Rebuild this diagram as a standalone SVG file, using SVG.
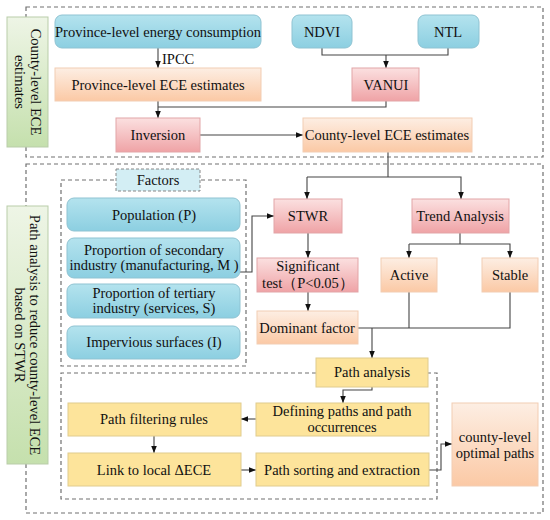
<svg xmlns="http://www.w3.org/2000/svg" width="550" height="520" viewBox="0 0 550 520" font-family="'Liberation Serif', 'DejaVu Serif', serif">
<defs>
<linearGradient id="gBlue" x1="0" y1="0" x2="0" y2="1"><stop offset="0" stop-color="#b4e3ee"/><stop offset="1" stop-color="#8ccfe1"/></linearGradient>
<linearGradient id="gOrange" x1="0" y1="0" x2="0" y2="1"><stop offset="0" stop-color="#fdeee3"/><stop offset="1" stop-color="#fbc9a5"/></linearGradient>
<linearGradient id="gPink" x1="0" y1="0" x2="0" y2="1"><stop offset="0" stop-color="#fbe0e0"/><stop offset="1" stop-color="#efa3a6"/></linearGradient>
<linearGradient id="gGreen" x1="0" y1="0" x2="0" y2="1"><stop offset="0" stop-color="#eef5e6"/><stop offset="1" stop-color="#c5e0ad"/></linearGradient>
<marker id="arr" viewBox="0 0 10 10" refX="10" refY="5" markerWidth="7" markerHeight="7" markerUnits="userSpaceOnUse" orient="auto"><path d="M0,1 L10,5 L0,9 z" fill="#111"/></marker>
<style>
text{font-family:'Liberation Serif','DejaVu Serif',serif;font-size:14.5px;fill:#111;text-anchor:middle;dominant-baseline:central}
.dash{fill:none;stroke:#707070;stroke-width:1.2;stroke-dasharray:4 3}
.blue{fill:url(#gBlue);stroke:#8fc3d2;stroke-width:1}
.orange{fill:url(#gOrange);stroke:#f2cdb3;stroke-width:1}
.pink{fill:url(#gPink);stroke:#e2a5a7;stroke-width:1}
.yellow{fill:#fde49b;stroke:#e0cc8e;stroke-width:1}
.green{fill:url(#gGreen);stroke:#b9cda9;stroke-width:1}
.ln{fill:none;stroke:#444;stroke-width:1.1}
.ar{fill:none;stroke:#444;stroke-width:1.1;marker-end:url(#arr)}
</style>
</defs>
<rect width="550" height="520" fill="#fff"/>
<g id="frames">
<rect class="dash" x="26" y="7" width="517" height="150"/>
<rect class="dash" x="26" y="164" width="517" height="349"/>
<rect class="dash" x="61" y="180" width="185" height="186"/>
<path class="dash" d="M316,373 L61,373 L61,499 L437,499 L437,373 L428,373"/>
</g>
<g id="label1"><rect class="green" x="7" y="17" width="41" height="130"/>
<text transform="translate(36,82) rotate(90)">County-level ECE</text>
<text transform="translate(20,82) rotate(90)">estimates</text></g>
<g id="label2"><rect class="green" x="7" y="206" width="41" height="258"/>
<text transform="translate(35,335) rotate(90)">Path analysis to reduce county-level ECE</text>
<text transform="translate(20,335) rotate(90)">based on  STWR</text></g>
<g id="connectors">
<path class="ar" d="M158,48 V68"/>
<text x="162" y="59" style="text-anchor:start">IPCC</text>
<path class="ar" d="M158,101 V118"/>
<path class="ln" d="M386,101 V107 H158"/>
<path class="ln" d="M322,48 V55 H448 V48"/>
<path class="ar" d="M386,55 V68"/>
<path class="ar" d="M200,135 H303"/>
<path class="ln" d="M388,152 V177"/>
<path class="ar" d="M307,177 H461 V199"/>
<path class="ar" d="M307,177 V199"/>
<path class="ar" d="M240,272 H252 V216 H274"/>
<path class="ar" d="M308,233 V258"/>
<path class="ar" d="M308,292 V311"/>
<path class="ln" d="M460,233 V244"/>
<path class="ar" d="M409,244 V258"/>
<path class="ar" d="M409,244 H510 V258"/>
<path class="ln" d="M358,328 H510 V292"/>
<path class="ln" d="M409,292 V328"/>
<path class="ar" d="M372,328 V358"/>
<path class="ar" d="M372,387 V390 H343 V403"/>
<path class="ar" d="M256,419 H241"/>
<path class="ar" d="M154,436 V453"/>
<path class="ar" d="M241,470 H256"/>
<path class="ar" d="M429,470 H441 V444 H452"/>
</g>
<g id="n-energy"><rect class="blue" x="55" y="15" width="206" height="33" rx="7"/><text x="158" y="32">Province-level energy consumption</text></g>
<g id="n-prov-ece"><rect class="orange" x="55" y="68" width="206" height="33"/><text x="158" y="85">Province-level ECE estimates</text></g>
<g id="n-inversion"><rect class="pink" x="116" y="118" width="84" height="34"/><text x="158" y="135">Inversion</text></g>
<g id="n-ndvi"><rect class="blue" x="292" y="15" width="60" height="33" rx="7"/><text x="322" y="32">NDVI</text></g>
<g id="n-ntl"><rect class="blue" x="418" y="15" width="61" height="33" rx="7"/><text x="448" y="32">NTL</text></g>
<g id="n-vanui"><rect class="pink" x="352" y="68" width="67" height="33"/><text x="386" y="85">VANUI</text></g>
<g id="n-county-ece"><rect class="orange" x="303" y="118" width="169" height="34"/><text x="387" y="135">County-level ECE estimates</text></g>
<g id="n-factors"><rect x="116" y="169" width="84" height="22" fill="#d3eef4" stroke="#888" stroke-width="1" stroke-dasharray="3 2"/><text x="158" y="180">Factors</text></g>
<g id="n-pop"><rect class="blue" x="67" y="198" width="173" height="33" rx="7"/><text x="154" y="215">Population (P)</text></g>
<g id="n-sec"><rect class="blue" x="67" y="238" width="173" height="40" rx="7"/><text x="154" y="250">Proportion of secondary</text><text x="154" y="265">industry (manufacturing, M )</text></g>
<g id="n-ter"><rect class="blue" x="67" y="284" width="173" height="34" rx="7"/><text x="154" y="293">Proportion of tertiary</text><text x="154" y="308">industry (services, S)</text></g>
<g id="n-imp"><rect class="blue" x="67" y="326" width="173" height="33" rx="7"/><text x="154" y="342">Impervious surfaces  (I)</text></g>
<g id="n-stwr"><rect class="pink" x="274" y="199" width="68" height="34"/><text x="308" y="216">STWR</text></g>
<g id="n-trend"><rect class="pink" x="412" y="199" width="97" height="34"/><text x="460" y="216">Trend Analysis</text></g>
<g id="n-sig"><rect class="pink" x="257" y="258" width="101" height="34"/><text x="308" y="266">Significant</text><text x="308" y="283">test（P&lt;0.05）</text></g>
<g id="n-active"><rect class="orange" x="381" y="258" width="56" height="34"/><text x="409" y="275">Active</text></g>
<g id="n-stable"><rect class="orange" x="482" y="258" width="56" height="34"/><text x="510" y="275">Stable</text></g>
<g id="n-dominant"><rect class="orange" x="257" y="311" width="101" height="33"/><text x="307" y="328">Dominant factor</text></g>
<g id="n-path"><rect class="yellow" x="316" y="358" width="112" height="29"/><text x="372" y="372">Path analysis</text></g>
<g id="n-defining"><rect class="yellow" x="256" y="403" width="173" height="33"/><text x="342" y="411">Defining paths and path</text><text x="342" y="427">occurrences</text></g>
<g id="n-filter"><rect class="yellow" x="68" y="403" width="173" height="33"/><text x="154" y="419">Path filtering rules</text></g>
<g id="n-link"><rect class="yellow" x="68" y="453" width="173" height="33"/><text x="154" y="470">Link to local ΔECE</text></g>
<g id="n-sorting"><rect class="yellow" x="256" y="453" width="173" height="33"/><text x="342" y="470">Path sorting and extraction</text></g>
<g id="n-optimal"><rect class="orange" x="452" y="403" width="86" height="83"/><text x="495" y="437">county-level</text><text x="495" y="453">optimal paths</text></g>
</svg>
